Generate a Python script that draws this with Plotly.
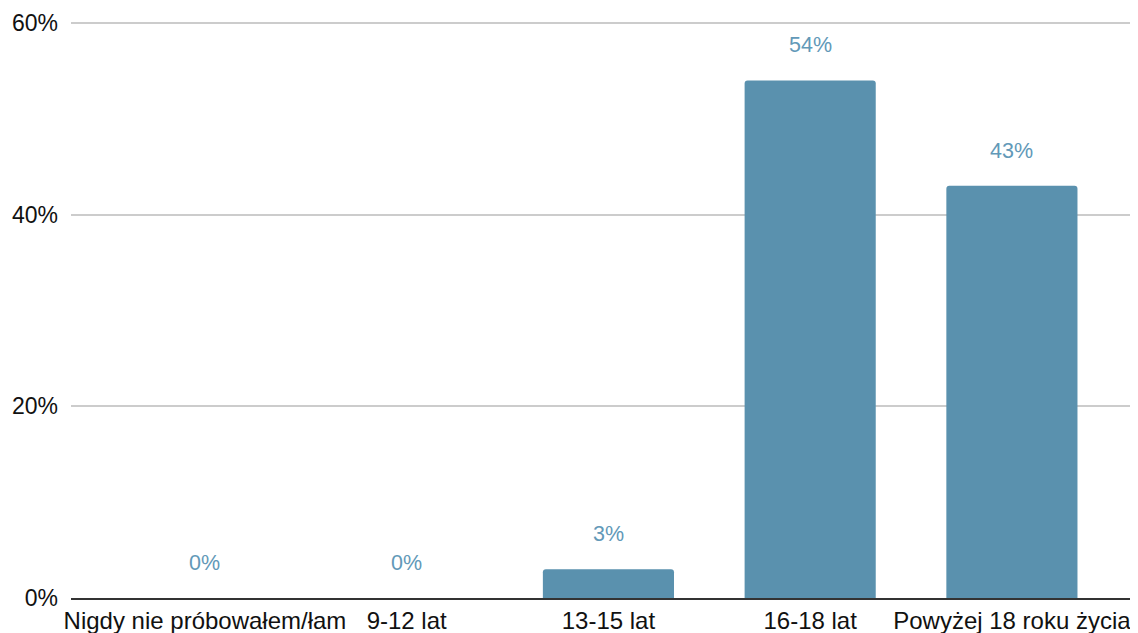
import plotly.graph_objects as go

categories = ["Nigdy nie próbowałem/łam", "9-12 lat", "13-15 lat", "16-18 lat", "Powyżej 18 roku życia"]
values = [0, 0, 3, 54, 43]
labels = ["0%", "0%", "3%", "54%", "43%"]
y_ticks = [0, 20, 40, 60]
y_tick_labels = ["0%", "20%", "40%", "60%"]

bar_color = "#5a91ae"
label_color = "#6299b8"
font_family = "Liberation Sans, Arial, sans-serif"

fig = go.Figure()
fig.add_trace(go.Bar(
    x=categories,
    y=values,
    marker=dict(color=bar_color, line=dict(width=0), cornerradius=3),
    width=0.65,
    hoverinfo="skip",
))

for c, v, t in zip(categories, values, labels):
    fig.add_annotation(
        x=c, y=v, text=t, showarrow=False, yshift=35,
        font=dict(family=font_family, size=21.5, color=label_color),
        xanchor="center", yanchor="middle",
    )

fig.update_layout(
    width=1130, height=625,
    margin=dict(l=63, r=0, t=13, b=35),
    paper_bgcolor="white", plot_bgcolor="white",
    showlegend=False,
    font=dict(family=font_family, size=23, color="#222222"),
    xaxis=dict(
        type="category",
        range=[-0.664, 4.625],
        showgrid=False,
        showline=True, linecolor="#333333", linewidth=2,
        ticks="", tickfont=dict(size=24, color="#111111"),
        ticklabelstandoff=0,
    ),
    yaxis=dict(
        range=[0, 60.2],
        tickvals=y_ticks, ticktext=y_tick_labels,
        showgrid=True, gridcolor="#cccccc", gridwidth=1.5,
        zeroline=False, showline=False,
        ticks="", tickfont=dict(size=23, color="#111111"),
        ticklabelstandoff=12,
    ),
)

fig.write_html("out.html")
